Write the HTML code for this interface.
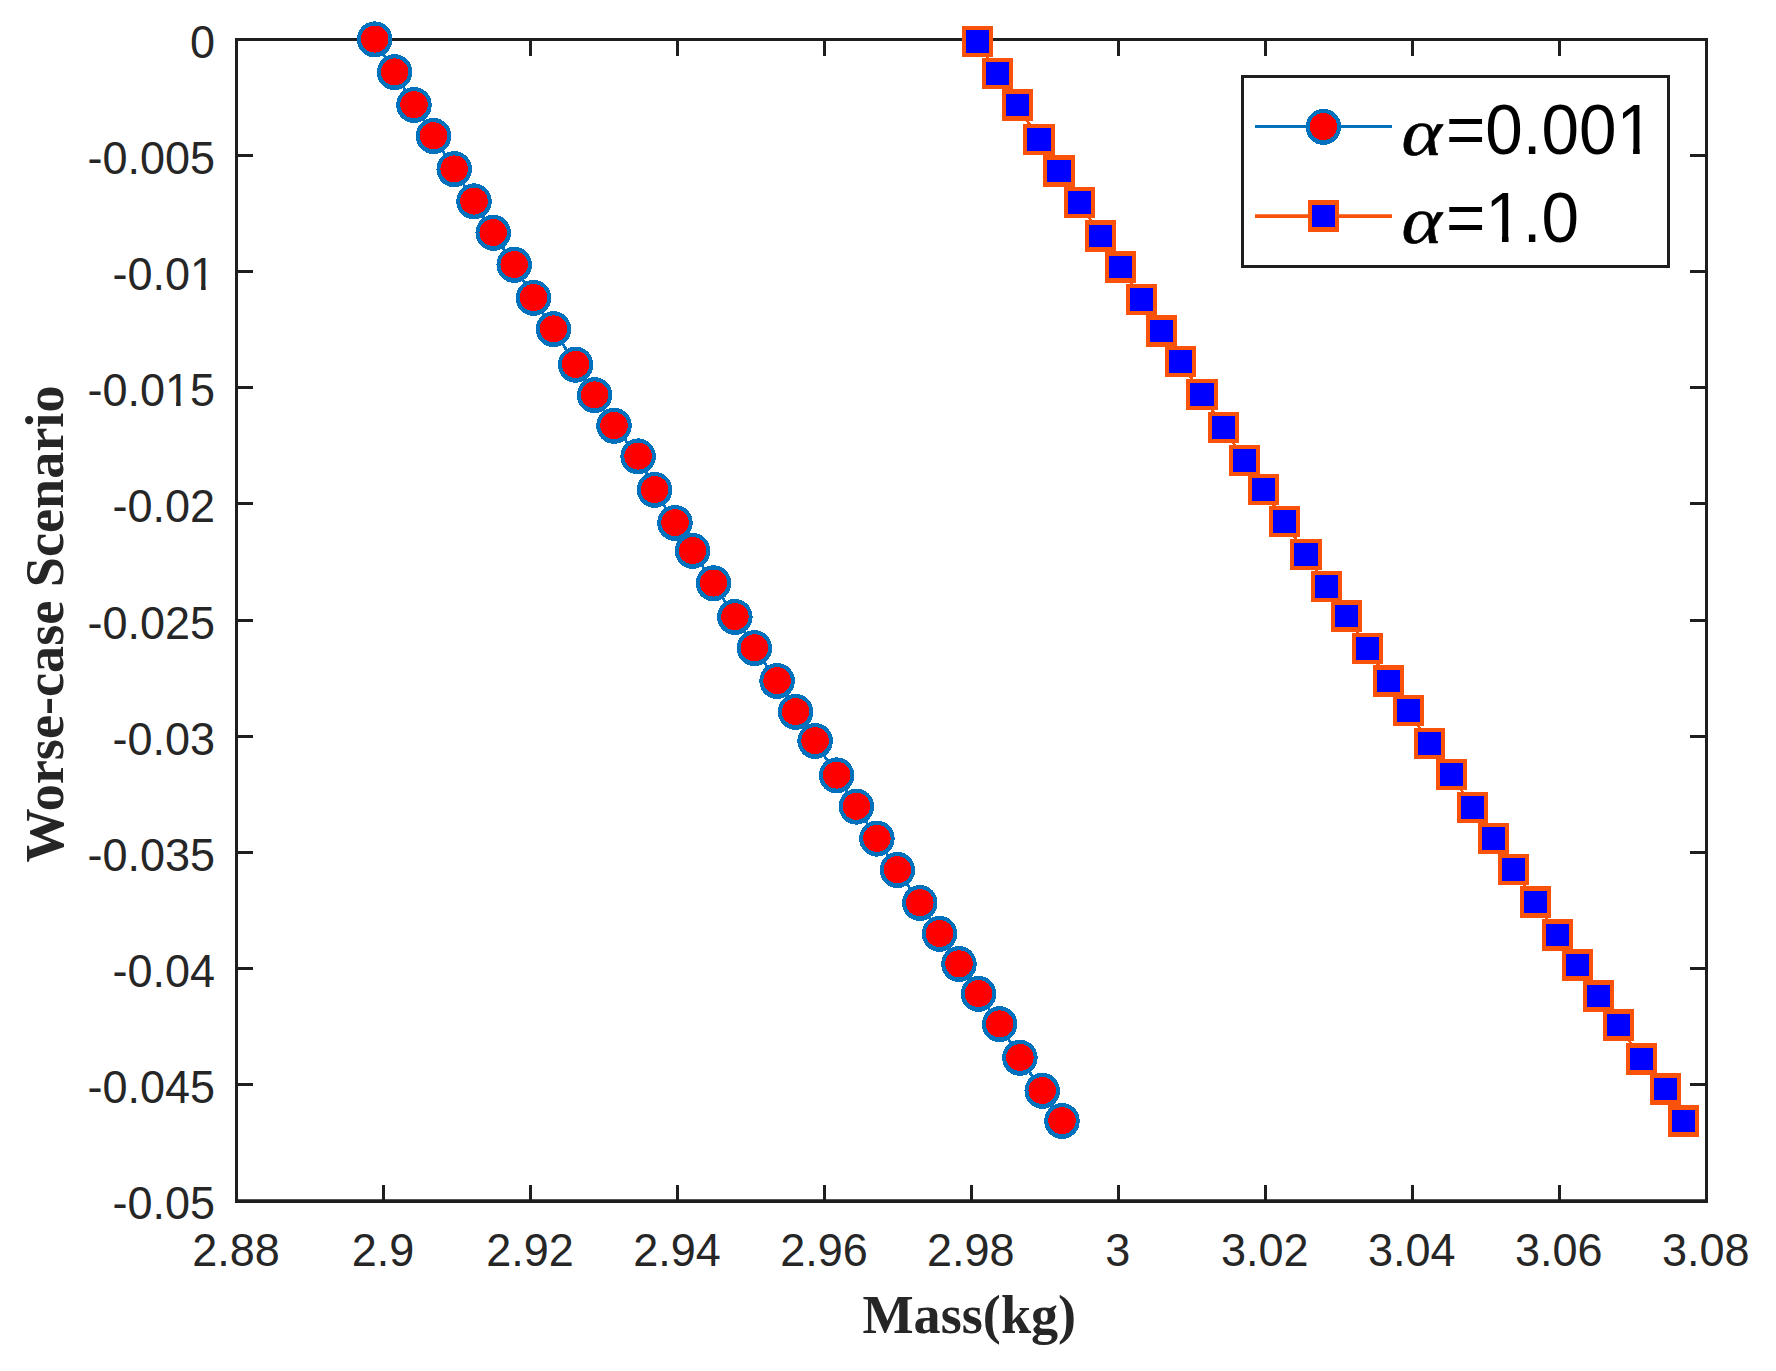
<!DOCTYPE html>
<html><head><meta charset="utf-8"><title>Worse-case Scenario vs Mass</title>
<style>html,body{margin:0;padding:0;background:#fff}svg{display:block}.t{font-family:"Liberation Sans",sans-serif;font-size:45px;fill:#262626}.lb{font-family:"Liberation Serif",serif;font-weight:bold;font-size:54.2px;fill:#262626}.lg{font-family:"Liberation Sans",sans-serif;font-size:67.4px;fill:#000}.al{font-family:"Liberation Serif",serif;font-size:67px;fill:#000;stroke:#000;stroke-width:0.5px}</style></head><body>
<svg width="1776" height="1371" viewBox="0 0 1776 1371">
<rect width="1776" height="1371" fill="#fff"/>
<defs><clipPath id="k0"><path clip-rule="evenodd" d="M0 0H1776V1371H0ZM191.9 285.7H201.1V292.0H191.9ZM205.6 285.7H214.4V292.0H205.6Z"/></clipPath><clipPath id="k1"><path clip-rule="evenodd" d="M0 0H1776V1371H0ZM166.9 401.9H176.1V408.1H166.9ZM180.6 401.9H189.4V408.1H180.6Z"/></clipPath><clipPath id="k2"><path clip-rule="evenodd" d="M0 0H1776V1371H0ZM1619.2 147.9H1633.1V156.0H1619.2ZM1639.7 147.9H1652.9V156.0H1639.7Z"/></clipPath><clipPath id="k3"><path clip-rule="evenodd" d="M0 0H1776V1371H0ZM1488.1 236.0H1502.0V244.1H1488.1ZM1508.5 236.0H1521.8V244.1H1508.5Z"/></clipPath></defs>
<path d="M383.5 1200.5v-15.5M383.5 39.5v16.5M236.5 155.5h16.5M1706.5 155.5h-16.5M530.5 1200.5v-15.5M530.5 39.5v16.5M236.5 271.5h16.5M1706.5 271.5h-16.5M677.5 1200.5v-15.5M677.5 39.5v16.5M236.5 387.5h16.5M1706.5 387.5h-16.5M824.5 1200.5v-15.5M824.5 39.5v16.5M236.5 503.5h16.5M1706.5 503.5h-16.5M971.5 1200.5v-15.5M971.5 39.5v16.5M236.5 620.5h16.5M1706.5 620.5h-16.5M1118.5 1200.5v-15.5M1118.5 39.5v16.5M236.5 736.5h16.5M1706.5 736.5h-16.5M1265.5 1200.5v-15.5M1265.5 39.5v16.5M236.5 852.5h16.5M1706.5 852.5h-16.5M1412.5 1200.5v-15.5M1412.5 39.5v16.5M236.5 968.5h16.5M1706.5 968.5h-16.5M1559.5 1200.5v-15.5M1559.5 39.5v16.5M236.5 1084.5h16.5M1706.5 1084.5h-16.5" stroke="#1e1e1e" stroke-width="3" fill="none"/>
<path d="M236.5 38.0V1202.9M1706.5 38.0V1202.9M235.0 39.5H1708.0" stroke="#1e1e1e" stroke-width="3" fill="none"/>
<path d="M235.0 1201.05H1708.0" stroke="#1e1e1e" stroke-width="3.7" fill="none"/>
<text class="t" transform="translate(235.9 1265.8) scale(1 1.04)" text-anchor="middle">2.88</text>
<text class="t" transform="translate(382.9 1265.8) scale(1 1.04)" text-anchor="middle">2.9</text>
<text class="t" transform="translate(529.9 1265.8) scale(1 1.04)" text-anchor="middle">2.92</text>
<text class="t" transform="translate(676.9 1265.8) scale(1 1.04)" text-anchor="middle">2.94</text>
<text class="t" transform="translate(823.9 1265.8) scale(1 1.04)" text-anchor="middle">2.96</text>
<text class="t" transform="translate(970.8 1265.8) scale(1 1.04)" text-anchor="middle">2.98</text>
<text class="t" transform="translate(1117.8 1265.8) scale(1 1.04)" text-anchor="middle">3</text>
<text class="t" transform="translate(1264.8 1265.8) scale(1 1.04)" text-anchor="middle">3.02</text>
<text class="t" transform="translate(1411.8 1265.8) scale(1 1.04)" text-anchor="middle">3.04</text>
<text class="t" transform="translate(1558.8 1265.8) scale(1 1.04)" text-anchor="middle">3.06</text>
<text class="t" transform="translate(1705.8 1265.8) scale(1 1.04)" text-anchor="middle">3.08</text>
<text class="t" transform="translate(215.1 57.7) scale(1 1.04)" text-anchor="end">0</text>
<text class="t" transform="translate(215.1 173.9) scale(1 1.04)" text-anchor="end">-0.005</text>
<g clip-path="url(#k0)"><text class="t" transform="translate(215.1 290.0) scale(1 1.04)" text-anchor="end">-0.01</text></g>
<g clip-path="url(#k1)"><text class="t" transform="translate(215.1 406.1) scale(1 1.04)" text-anchor="end">-0.015</text></g>
<text class="t" transform="translate(215.1 522.3) scale(1 1.04)" text-anchor="end">-0.02</text>
<text class="t" transform="translate(215.1 638.5) scale(1 1.04)" text-anchor="end">-0.025</text>
<text class="t" transform="translate(215.1 754.6) scale(1 1.04)" text-anchor="end">-0.03</text>
<text class="t" transform="translate(215.1 870.8) scale(1 1.04)" text-anchor="end">-0.035</text>
<text class="t" transform="translate(215.1 986.9) scale(1 1.04)" text-anchor="end">-0.04</text>
<text class="t" transform="translate(215.1 1103.0) scale(1 1.04)" text-anchor="end">-0.045</text>
<text class="t" transform="translate(215.1 1219.2) scale(1 1.04)" text-anchor="end">-0.05</text>
<text class="lb" x="969.3" y="1333.4" text-anchor="middle">Mass(kg)</text>
<text class="lb" transform="translate(63.2 624) rotate(-90)" text-anchor="middle">Worse-case Scenario</text>
<path d="M374.7 39.4L394.6 72.2L414.0 105.0L433.5 136.0L454.2 169.2L474.0 201.4L493.2 232.8L514.2 264.8L533.5 297.9L553.5 329.2L575.6 364.7L594.6 395.2L614.0 425.8L638.1 456.4L654.6 489.9L675.0 522.9L692.6 550.9L713.5 583.3L734.9 616.9L754.4 648.1L777.1 681.0L795.6 711.9L815.1 741.0L836.6 775.4L856.4 806.6L876.9 838.6L897.4 870.0L919.8 903.0L939.5 933.8L959.0 964.1L978.5 993.9L999.6 1024.2L1019.9 1057.8L1042.2 1090.8L1062.0 1121.0" fill="none" stroke="#0072BD" stroke-width="2.8" shape-rendering="crispEdges"/>
<g shape-rendering="crispEdges">
<ellipse cx="374.7" cy="39.4" rx="17.75" ry="18.05" fill="#0072BD"/><ellipse cx="374.7" cy="39.1" rx="13.75" ry="13.5" fill="#FF0000"/>
<ellipse cx="394.6" cy="72.2" rx="17.75" ry="18.05" fill="#0072BD"/><ellipse cx="394.6" cy="71.9" rx="13.75" ry="13.5" fill="#FF0000"/>
<ellipse cx="414.0" cy="105.0" rx="17.75" ry="18.05" fill="#0072BD"/><ellipse cx="414.0" cy="104.7" rx="13.75" ry="13.5" fill="#FF0000"/>
<ellipse cx="433.5" cy="136.0" rx="17.75" ry="18.05" fill="#0072BD"/><ellipse cx="433.5" cy="135.7" rx="13.75" ry="13.5" fill="#FF0000"/>
<ellipse cx="454.2" cy="169.2" rx="17.75" ry="18.05" fill="#0072BD"/><ellipse cx="454.2" cy="168.9" rx="13.75" ry="13.5" fill="#FF0000"/>
<ellipse cx="474.0" cy="201.4" rx="17.75" ry="18.05" fill="#0072BD"/><ellipse cx="474.0" cy="201.1" rx="13.75" ry="13.5" fill="#FF0000"/>
<ellipse cx="493.2" cy="232.8" rx="17.75" ry="18.05" fill="#0072BD"/><ellipse cx="493.2" cy="232.5" rx="13.75" ry="13.5" fill="#FF0000"/>
<ellipse cx="514.2" cy="264.8" rx="17.75" ry="18.05" fill="#0072BD"/><ellipse cx="514.2" cy="264.5" rx="13.75" ry="13.5" fill="#FF0000"/>
<ellipse cx="533.5" cy="297.9" rx="17.75" ry="18.05" fill="#0072BD"/><ellipse cx="533.5" cy="297.6" rx="13.75" ry="13.5" fill="#FF0000"/>
<ellipse cx="553.5" cy="329.2" rx="17.75" ry="18.05" fill="#0072BD"/><ellipse cx="553.5" cy="328.9" rx="13.75" ry="13.5" fill="#FF0000"/>
<ellipse cx="575.6" cy="364.7" rx="17.75" ry="18.05" fill="#0072BD"/><ellipse cx="575.6" cy="364.4" rx="13.75" ry="13.5" fill="#FF0000"/>
<ellipse cx="594.6" cy="395.2" rx="17.75" ry="18.05" fill="#0072BD"/><ellipse cx="594.6" cy="394.9" rx="13.75" ry="13.5" fill="#FF0000"/>
<ellipse cx="614.0" cy="425.8" rx="17.75" ry="18.05" fill="#0072BD"/><ellipse cx="614.0" cy="425.5" rx="13.75" ry="13.5" fill="#FF0000"/>
<ellipse cx="638.1" cy="456.4" rx="17.75" ry="18.05" fill="#0072BD"/><ellipse cx="638.1" cy="456.1" rx="13.75" ry="13.5" fill="#FF0000"/>
<ellipse cx="654.6" cy="489.9" rx="17.75" ry="18.05" fill="#0072BD"/><ellipse cx="654.6" cy="489.6" rx="13.75" ry="13.5" fill="#FF0000"/>
<ellipse cx="675.0" cy="522.9" rx="17.75" ry="18.05" fill="#0072BD"/><ellipse cx="675.0" cy="522.6" rx="13.75" ry="13.5" fill="#FF0000"/>
<ellipse cx="692.6" cy="550.9" rx="17.75" ry="18.05" fill="#0072BD"/><ellipse cx="692.6" cy="550.6" rx="13.75" ry="13.5" fill="#FF0000"/>
<ellipse cx="713.5" cy="583.3" rx="17.75" ry="18.05" fill="#0072BD"/><ellipse cx="713.5" cy="583.0" rx="13.75" ry="13.5" fill="#FF0000"/>
<ellipse cx="734.9" cy="616.9" rx="17.75" ry="18.05" fill="#0072BD"/><ellipse cx="734.9" cy="616.6" rx="13.75" ry="13.5" fill="#FF0000"/>
<ellipse cx="754.4" cy="648.1" rx="17.75" ry="18.05" fill="#0072BD"/><ellipse cx="754.4" cy="647.8" rx="13.75" ry="13.5" fill="#FF0000"/>
<ellipse cx="777.1" cy="681.0" rx="17.75" ry="18.05" fill="#0072BD"/><ellipse cx="777.1" cy="680.7" rx="13.75" ry="13.5" fill="#FF0000"/>
<ellipse cx="795.6" cy="711.9" rx="17.75" ry="18.05" fill="#0072BD"/><ellipse cx="795.6" cy="711.6" rx="13.75" ry="13.5" fill="#FF0000"/>
<ellipse cx="815.1" cy="741.0" rx="17.75" ry="18.05" fill="#0072BD"/><ellipse cx="815.1" cy="740.7" rx="13.75" ry="13.5" fill="#FF0000"/>
<ellipse cx="836.6" cy="775.4" rx="17.75" ry="18.05" fill="#0072BD"/><ellipse cx="836.6" cy="775.1" rx="13.75" ry="13.5" fill="#FF0000"/>
<ellipse cx="856.4" cy="806.6" rx="17.75" ry="18.05" fill="#0072BD"/><ellipse cx="856.4" cy="806.3" rx="13.75" ry="13.5" fill="#FF0000"/>
<ellipse cx="876.9" cy="838.6" rx="17.75" ry="18.05" fill="#0072BD"/><ellipse cx="876.9" cy="838.3" rx="13.75" ry="13.5" fill="#FF0000"/>
<ellipse cx="897.4" cy="870.0" rx="17.75" ry="18.05" fill="#0072BD"/><ellipse cx="897.4" cy="869.7" rx="13.75" ry="13.5" fill="#FF0000"/>
<ellipse cx="919.8" cy="903.0" rx="17.75" ry="18.05" fill="#0072BD"/><ellipse cx="919.8" cy="902.7" rx="13.75" ry="13.5" fill="#FF0000"/>
<ellipse cx="939.5" cy="933.8" rx="17.75" ry="18.05" fill="#0072BD"/><ellipse cx="939.5" cy="933.5" rx="13.75" ry="13.5" fill="#FF0000"/>
<ellipse cx="959.0" cy="964.1" rx="17.75" ry="18.05" fill="#0072BD"/><ellipse cx="959.0" cy="963.8" rx="13.75" ry="13.5" fill="#FF0000"/>
<ellipse cx="978.5" cy="993.9" rx="17.75" ry="18.05" fill="#0072BD"/><ellipse cx="978.5" cy="993.6" rx="13.75" ry="13.5" fill="#FF0000"/>
<ellipse cx="999.6" cy="1024.2" rx="17.75" ry="18.05" fill="#0072BD"/><ellipse cx="999.6" cy="1023.9" rx="13.75" ry="13.5" fill="#FF0000"/>
<ellipse cx="1019.9" cy="1057.8" rx="17.75" ry="18.05" fill="#0072BD"/><ellipse cx="1019.9" cy="1057.5" rx="13.75" ry="13.5" fill="#FF0000"/>
<ellipse cx="1042.2" cy="1090.8" rx="17.75" ry="18.05" fill="#0072BD"/><ellipse cx="1042.2" cy="1090.5" rx="13.75" ry="13.5" fill="#FF0000"/>
<ellipse cx="1062.0" cy="1121.0" rx="17.75" ry="18.05" fill="#0072BD"/><ellipse cx="1062.0" cy="1120.7" rx="13.75" ry="13.5" fill="#FF0000"/>
</g>
<path d="M977.5 41.5L997.6 73.5L1017.5 105.0L1038.9 139.5L1059.0 171.1L1079.5 202.6L1100.6 235.7L1120.7 266.9L1141.4 299.5L1161.5 331.0L1180.5 361.6L1202.0 394.6L1223.5 427.6L1244.5 460.7L1263.6 489.5L1284.5 521.5L1306.0 554.5L1326.4 586.5L1346.6 616.1L1367.5 648.5L1388.6 680.7L1408.6 710.5L1429.7 743.5L1451.5 774.4L1472.6 807.5L1493.4 838.5L1513.5 869.6L1535.7 901.5L1557.6 935.0L1577.5 965.0L1598.5 996.0L1618.6 1025.0L1641.5 1059.0L1665.5 1089.1L1683.6 1121.0" fill="none" stroke="#F9530B" stroke-width="2.8" shape-rendering="crispEdges"/>
<g shape-rendering="crispEdges">
<rect x="962" y="26" width="31" height="31" fill="#F9530B"/><rect x="966" y="30" width="23" height="23" fill="#0000FF"/>
<rect x="982" y="58" width="31" height="31" fill="#F9530B"/><rect x="986" y="62" width="23" height="23" fill="#0000FF"/>
<rect x="1002" y="89" width="31" height="32" fill="#F9530B"/><rect x="1006" y="94" width="23" height="22" fill="#0000FF"/>
<rect x="1023" y="124" width="32" height="31" fill="#F9530B"/><rect x="1027" y="128" width="24" height="23" fill="#0000FF"/>
<rect x="1043" y="155" width="32" height="32" fill="#F9530B"/><rect x="1047" y="160" width="24" height="22" fill="#0000FF"/>
<rect x="1064" y="187" width="31" height="31" fill="#F9530B"/><rect x="1068" y="191" width="23" height="23" fill="#0000FF"/>
<rect x="1085" y="220" width="31" height="32" fill="#F9530B"/><rect x="1089" y="225" width="23" height="22" fill="#0000FF"/>
<rect x="1105" y="251" width="31" height="32" fill="#F9530B"/><rect x="1109" y="256" width="23" height="22" fill="#0000FF"/>
<rect x="1126" y="284" width="31" height="31" fill="#F9530B"/><rect x="1130" y="288" width="23" height="23" fill="#0000FF"/>
<rect x="1146" y="315" width="31" height="32" fill="#F9530B"/><rect x="1150" y="320" width="23" height="22" fill="#0000FF"/>
<rect x="1165" y="346" width="31" height="31" fill="#F9530B"/><rect x="1169" y="350" width="23" height="23" fill="#0000FF"/>
<rect x="1186" y="379" width="32" height="31" fill="#F9530B"/><rect x="1190" y="383" width="24" height="23" fill="#0000FF"/>
<rect x="1208" y="412" width="31" height="31" fill="#F9530B"/><rect x="1212" y="416" width="23" height="23" fill="#0000FF"/>
<rect x="1229" y="445" width="31" height="31" fill="#F9530B"/><rect x="1233" y="449" width="23" height="23" fill="#0000FF"/>
<rect x="1248" y="474" width="31" height="31" fill="#F9530B"/><rect x="1252" y="478" width="23" height="23" fill="#0000FF"/>
<rect x="1269" y="506" width="31" height="31" fill="#F9530B"/><rect x="1273" y="510" width="23" height="23" fill="#0000FF"/>
<rect x="1290" y="539" width="32" height="31" fill="#F9530B"/><rect x="1294" y="543" width="24" height="23" fill="#0000FF"/>
<rect x="1311" y="571" width="31" height="31" fill="#F9530B"/><rect x="1315" y="575" width="23" height="23" fill="#0000FF"/>
<rect x="1331" y="600" width="31" height="32" fill="#F9530B"/><rect x="1335" y="605" width="23" height="22" fill="#0000FF"/>
<rect x="1352" y="633" width="31" height="31" fill="#F9530B"/><rect x="1356" y="637" width="23" height="23" fill="#0000FF"/>
<rect x="1373" y="665" width="31" height="32" fill="#F9530B"/><rect x="1377" y="670" width="23" height="22" fill="#0000FF"/>
<rect x="1393" y="695" width="31" height="31" fill="#F9530B"/><rect x="1397" y="699" width="23" height="23" fill="#0000FF"/>
<rect x="1414" y="728" width="31" height="31" fill="#F9530B"/><rect x="1418" y="732" width="23" height="23" fill="#0000FF"/>
<rect x="1436" y="759" width="31" height="31" fill="#F9530B"/><rect x="1440" y="763" width="23" height="23" fill="#0000FF"/>
<rect x="1457" y="792" width="31" height="31" fill="#F9530B"/><rect x="1461" y="796" width="23" height="23" fill="#0000FF"/>
<rect x="1478" y="823" width="31" height="31" fill="#F9530B"/><rect x="1482" y="827" width="23" height="23" fill="#0000FF"/>
<rect x="1498" y="854" width="31" height="31" fill="#F9530B"/><rect x="1502" y="858" width="23" height="23" fill="#0000FF"/>
<rect x="1520" y="886" width="31" height="32" fill="#F9530B"/><rect x="1524" y="891" width="23" height="22" fill="#0000FF"/>
<rect x="1542" y="919" width="31" height="32" fill="#F9530B"/><rect x="1546" y="924" width="23" height="22" fill="#0000FF"/>
<rect x="1562" y="949" width="31" height="32" fill="#F9530B"/><rect x="1566" y="954" width="23" height="22" fill="#0000FF"/>
<rect x="1583" y="980" width="31" height="32" fill="#F9530B"/><rect x="1587" y="985" width="23" height="22" fill="#0000FF"/>
<rect x="1603" y="1009" width="31" height="32" fill="#F9530B"/><rect x="1607" y="1014" width="23" height="22" fill="#0000FF"/>
<rect x="1626" y="1043" width="31" height="32" fill="#F9530B"/><rect x="1630" y="1048" width="23" height="22" fill="#0000FF"/>
<rect x="1650" y="1073" width="31" height="32" fill="#F9530B"/><rect x="1654" y="1078" width="23" height="22" fill="#0000FF"/>
<rect x="1668" y="1105" width="31" height="32" fill="#F9530B"/><rect x="1672" y="1110" width="23" height="22" fill="#0000FF"/>
</g>
<rect x="1242.5" y="76.5" width="426" height="190" fill="#fff" stroke="#1e1e1e" stroke-width="3"/>
<path d="M1255 126.5H1392" stroke="#0072BD" stroke-width="3"/>
<g shape-rendering="crispEdges"><ellipse cx="1323.4" cy="126.9" rx="17.75" ry="18.05" fill="#0072BD"/><ellipse cx="1323.4" cy="126.6" rx="13.75" ry="13.5" fill="#FF0000"/></g>
<path d="M1255 216.1H1392" stroke="#F9530B" stroke-width="3.8"/>
<g shape-rendering="crispEdges"><rect x="1308" y="200" width="31" height="32" fill="#F9530B"/><rect x="1312" y="205" width="23" height="22" fill="#0000FF"/></g>
<text class="al" transform="translate(1398.8 154.9) skewX(-10) scale(1.16 1)">α</text><g clip-path="url(#k2)"><text class="lg" transform="translate(1446 154.0) scale(1 1.04)">=0.001</text></g>
<text class="al" transform="translate(1398.8 243.1) skewX(-10) scale(1.16 1)">α</text><g clip-path="url(#k3)"><text class="lg" transform="translate(1446 242.1) scale(1 1.04)">=1.0</text></g>
</svg></body></html>
